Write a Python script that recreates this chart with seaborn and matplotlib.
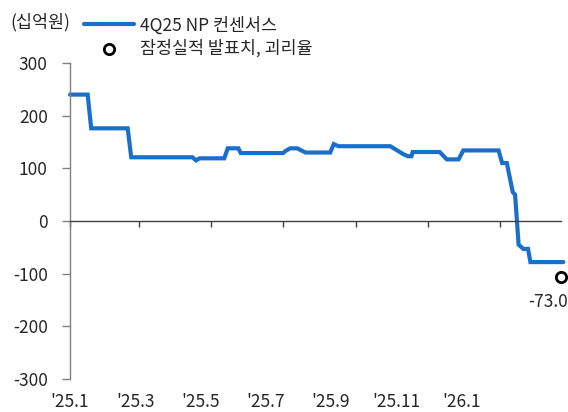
import matplotlib
matplotlib.use("Agg")
import matplotlib.pyplot as plt
import matplotlib.dates as mdates
import seaborn as sns
import pandas as pd
import numpy as np

# ---- data ----
dates = ["2025-01-01", "2025-01-16", "2025-01-19", "2025-02-19", "2025-02-22",
         "2025-04-15", "2025-04-18", "2025-04-21", "2025-05-12", "2025-05-15",
         "2025-05-24", "2025-05-26", "2025-07-01", "2025-07-03", "2025-07-07",
         "2025-07-13", "2025-07-20", "2025-08-10", "2025-08-13", "2025-08-17",
         "2025-09-30", "2025-10-11", "2025-10-15", "2025-10-18", "2025-10-19",
         "2025-11-11", "2025-11-17", "2025-11-27", "2025-12-01", "2025-12-31",
         "2026-01-03", "2026-01-07", "2026-01-12", "2026-01-14", "2026-01-17",
         "2026-01-21", "2026-01-25", "2026-01-27", "2026-02-24"]
consensus = [240, 240, 176, 176, 121,
             121, 115, 119, 119, 138,
             138, 129, 129, 133, 138,
             138, 130, 130, 146, 142,
             142, 127, 123, 123, 131,
             131, 117, 117, 134, 134,
             110, 110, 55, 50, -45,
             -53, -53, -78, -78]
actual_date = ["2026-02-22"]
actual_value = [-106]
deviation_label = ["-73.0"]

x_tick_dates = ["2025-01-01", "2025-03-01", "2025-05-01", "2025-07-01",
                "2025-09-01", "2025-11-01", "2026-01-01"]
x_tick_labels = ["'25.1", "'25.3", "'25.5", "'25.7", "'25.9", "'25.11", "'26.1"]
y_ticks = [300, 200, 100, 0, -100, -200, -300]

unit_label = "(십억원)"
series_label = "4Q25 NP 컨센서스"
marker_label = "잠정실적 발표치, 괴리율"

# ---- style ----
sns.set_theme(style="white")
plt.rcParams['font.family'] = ['Noto Sans CJK KR', 'DejaVu Sans']
TXT = "#262626"
AX = "#808080"
BLUE = "#1a70c8"
FS = 12.5

df = pd.DataFrame({"date": pd.to_datetime(dates), "value": consensus})
dfa = pd.DataFrame({"date": pd.to_datetime(actual_date), "value": actual_value})

fig = plt.figure(figsize=(5.68, 4.12), dpi=100)
L, R, T, B = 70, 561, 63, 379
W, H = 568, 412
ax = fig.add_axes([L / W, 1 - B / H, (R - L) / W, (B - T) / H])

sns.lineplot(data=df, x="date", y="value", ax=ax, color=BLUE, linewidth=3.0,
             estimator=None, sort=False, label=series_label, clip_on=False,
             solid_joinstyle="miter")
sns.scatterplot(data=dfa, x="date", y="value", ax=ax, marker="o", s=55,
                facecolor="white", edgecolor="black", linewidth=2.0,
                label=marker_label, clip_on=False, zorder=5)

for d, v, t in zip(dfa["date"], dfa["value"], deviation_label):
    ax.annotate(t, (mdates.date2num(d), v), xytext=(5, -18), textcoords="offset points",
                ha="right", va="center", fontsize=FS, color=TXT, annotation_clip=False)

ax.set_xlim(mdates.date2num(pd.Timestamp("2025-01-01")),
            mdates.date2num(pd.Timestamp("2026-02-22")))
ax.set_ylim(-300, 300)
ax.set_yticks(y_ticks)
ax.set_yticklabels([str(v) for v in y_ticks])
ax.set_xticks([mdates.date2num(pd.Timestamp(d)) for d in x_tick_dates])
ax.set_xlabel("")
ax.set_ylabel("")

for s in ["top", "right"]:
    ax.spines[s].set_visible(False)
ax.spines["left"].set_color(AX)
ax.spines["left"].set_linewidth(1.0)
ax.spines["bottom"].set_position(("data", 0))
ax.spines["bottom"].set_color("#404040")
ax.spines["bottom"].set_linewidth(1.0)
ax.tick_params(axis="y", direction="out", length=6, width=1, color=AX,
               labelsize=FS, labelcolor=TXT, pad=10, left=True)
ax.tick_params(axis="x", direction="out", length=4, width=1, color="#404040",
               labelbottom=False, bottom=True)

# category-style labels along the bottom
ax2 = ax.twiny()
ax2.set_xlim((L - 64.2) / 66.0, (R - 64.2) / 66.0)
ax2.set_xticks(range(len(x_tick_labels)))
ax2.set_xticklabels(x_tick_labels)
ax2.xaxis.set_ticks_position("bottom")
ax2.tick_params(axis="x", length=0, labelsize=FS, labelcolor=TXT, pad=10)
for s in ax2.spines.values():
    s.set_visible(False)

# legend
handles, labels = ax.get_legend_handles_labels()
if ax.legend_:
    ax.legend_.remove()
leg = fig.legend(handles, labels, loc="upper left",
                 bbox_to_anchor=(84 / W, 1 - 16 / H), frameon=False,
                 fontsize=FS, handlelength=2.9, handletextpad=0.3,
                 labelspacing=0.3, borderpad=0, borderaxespad=0)
for t in leg.get_texts():
    t.set_color(TXT)

fig.text(10 / W, 1 - 22 / H, unit_label, ha="left", va="center",
         fontsize=FS, color=TXT)

fig.savefig("out.png", dpi=100)
